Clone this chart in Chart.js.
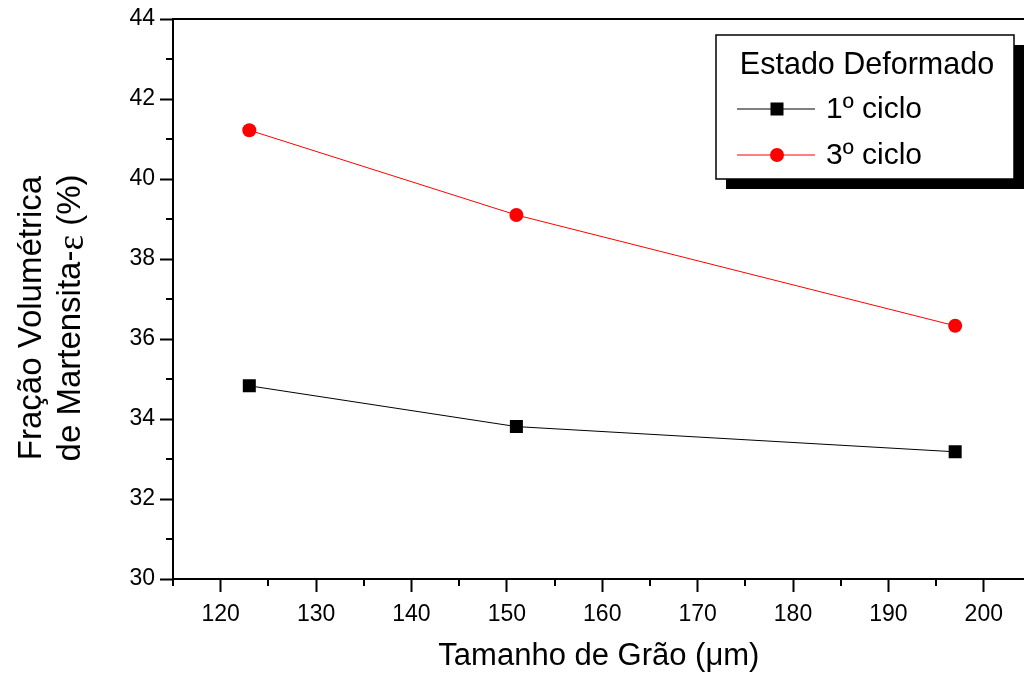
<!DOCTYPE html>
<html>
<head>
<meta charset="utf-8">
<script src="https://cdn.jsdelivr.net/npm/chart.js@4"></script>
<style>
  html, body { margin: 0; padding: 0; background: #fff; overflow: hidden; }
  #wrap { width: 1024px; height: 675px; overflow: hidden; }
</style>
</head>
<body>
<div id="wrap"><canvas id="myChart" width="1034" height="675"></canvas></div>
<script>
// Data
const grainSize = [123, 151, 197];          // Tamanho de Grão (µm)
const cycle1 = [34.83, 33.81, 33.18];        // 1º ciclo
const cycle3 = [41.22, 39.10, 36.33];        // 3º ciclo
const seriesNames = ['1º ciclo', '3º ciclo'];
const legendTitle = 'Estado Deformado';
const xTitle = 'Tamanho de Grão (μm)';
const yTitle = ['Fração Volumétrica', 'de Martensita-', 'ε', ' (%)'];

const FONT = '"Liberation Sans", Arial, Helvetica, sans-serif';
const SYMFONT = '"Liberation Serif", "DejaVu Serif", serif';

const toPoints = (ys) => ys.map((y, i) => ({ x: grainSize[i], y: y }));

// minor ticks, top frame line and the y axis title
const framePlugin = {
  id: 'frame',
  afterDraw(chart) {
    const c = chart.ctx;
    const a = chart.chartArea;
    const xs = chart.scales.x, ys = chart.scales.y;
    c.save();
    c.strokeStyle = '#000';
    c.lineWidth = 2;
    c.beginPath();
    c.moveTo(a.left - 1, a.top);
    c.lineTo(a.right + 2, a.top);
    c.stroke();
    // minor ticks on x
    for (let v = 115; v <= xs.max; v += 10) {
      const px = Math.round(xs.getPixelForValue(v));
      c.beginPath();
      c.moveTo(px, a.bottom);
      c.lineTo(px, a.bottom + 7);
      c.stroke();
    }
    // minor ticks on y
    for (let v = 31; v < ys.max; v += 2) {
      const py = Math.round(ys.getPixelForValue(v));
      c.beginPath();
      c.moveTo(a.left, py);
      c.lineTo(a.left - 7, py);
      c.stroke();
    }
    // y title, two lines, rotated (epsilon in a symbol-like font)
    c.translate(0, 318);
    c.rotate(-Math.PI / 2);
    c.fillStyle = '#000';
    c.textBaseline = 'middle';
    c.font = '33px ' + FONT;
    c.textAlign = 'center';
    c.fillText(yTitle[0], 0, 32);
    const f1 = '33px ' + FONT, f2 = '37px ' + SYMFONT;
    c.font = f1;
    const w1 = c.measureText(yTitle[1]).width;
    const w3 = c.measureText(yTitle[3]).width;
    c.font = f2;
    const w2 = c.measureText(yTitle[2]).width;
    let x = -(w1 + w2 + w3) / 2;
    c.textAlign = 'left';
    c.font = f1;
    c.fillText(yTitle[1], x, 71);
    x += w1;
    c.font = f2;
    c.fillText(yTitle[2], x, 73);
    x += w2;
    c.font = f1;
    c.fillText(yTitle[3], x, 71);
    c.restore();
  }
};

// legend box with drop shadow
const legendPlugin = {
  id: 'boxLegend',
  afterDraw(chart) {
    const c = chart.ctx;
    const bx = 716, by = 35, bw = 298, bh = 144;
    c.save();
    c.fillStyle = '#000';
    c.fillRect(bx + 10, by + 10, bw, bh);
    c.fillStyle = '#fff';
    c.fillRect(bx, by, bw, bh);
    c.strokeStyle = '#000';
    c.lineWidth = 1.5;
    c.strokeRect(bx, by, bw, bh);

    c.fillStyle = '#000';
    c.font = '30.5px ' + FONT;
    c.textBaseline = 'middle';
    c.textAlign = 'center';
    c.fillText(legendTitle, bx + bw / 2 + 2, 66);

    const rows = [109, 155];
    c.font = '30px ' + FONT;
    chart.data.datasets.forEach((ds, i) => {
      const y = rows[i];
      c.strokeStyle = ds.borderColor;
      c.lineWidth = 1;
      c.beginPath();
      c.moveTo(737, y);
      c.lineTo(815, y);
      c.stroke();
      c.fillStyle = ds.pointBackgroundColor;
      if (ds.pointStyle === 'rect') {
        c.fillRect(777 - 6.5, y - 6.5, 13, 13);
      } else {
        c.beginPath();
        c.arc(777, y, 7, 0, Math.PI * 2);
        c.fill();
      }
      c.fillStyle = '#000';
      c.textAlign = 'left';
      c.fillText(ds.label, 826, y + 1);
    });
    c.restore();
  }
};

const ctx = document.getElementById('myChart').getContext('2d');
new Chart(ctx, {
  type: 'line',
  data: {
    datasets: [
      {
        label: seriesNames[0],
        data: toPoints(cycle1),
        borderColor: '#000',
        borderWidth: 1,
        pointStyle: 'rect',
        pointRadius: 9.2,
        pointBackgroundColor: '#000',
        pointBorderColor: '#000',
        pointBorderWidth: 0,
        tension: 0
      },
      {
        label: seriesNames[1],
        data: toPoints(cycle3),
        borderColor: '#ff0000',
        borderWidth: 1,
        pointStyle: 'circle',
        pointRadius: 7,
        pointBackgroundColor: '#ff0000',
        pointBorderColor: '#ff0000',
        pointBorderWidth: 0,
        tension: 0
      }
    ]
  },
  options: {
    responsive: false,
    animation: false,
    layout: { padding: { top: 19, right: 0, left: 0, bottom: 0 } },
    plugins: {
      legend: { display: false },
      tooltip: { enabled: false }
    },
    scales: {
      x: {
        type: 'linear',
        min: 115,
        max: 204.3,
        afterFit(scale) { scale.height = 96; },
        grid: {
          drawOnChartArea: false,
          drawTicks: true,
          tickLength: 13,
          tickWidth: 2,
          tickColor: '#000'
        },
        border: { display: true, color: '#000', width: 2 },
        ticks: {
          stepSize: 10,
          includeBounds: false,
          color: '#000',
          padding: 9,
          maxRotation: 0,
          font: { family: FONT, size: 23 }
        },
        title: {
          display: true,
          text: xTitle,
          color: '#000',
          font: { family: FONT, size: 31 },
          padding: { top: 5, bottom: 0 }
        }
      },
      y: {
        min: 30,
        max: 44,
        afterFit(scale) { scale.width = 173; },
        grid: {
          drawOnChartArea: false,
          drawTicks: true,
          tickLength: 13,
          tickWidth: 2,
          tickColor: '#000'
        },
        border: { display: true, color: '#000', width: 2 },
        ticks: {
          stepSize: 2,
          color: '#000',
          padding: 5,
          font: { family: FONT, size: 23 }
        },
        title: { display: false }
      }
    }
  },
  plugins: [framePlugin, legendPlugin]
});
</script>
</body>
</html>
